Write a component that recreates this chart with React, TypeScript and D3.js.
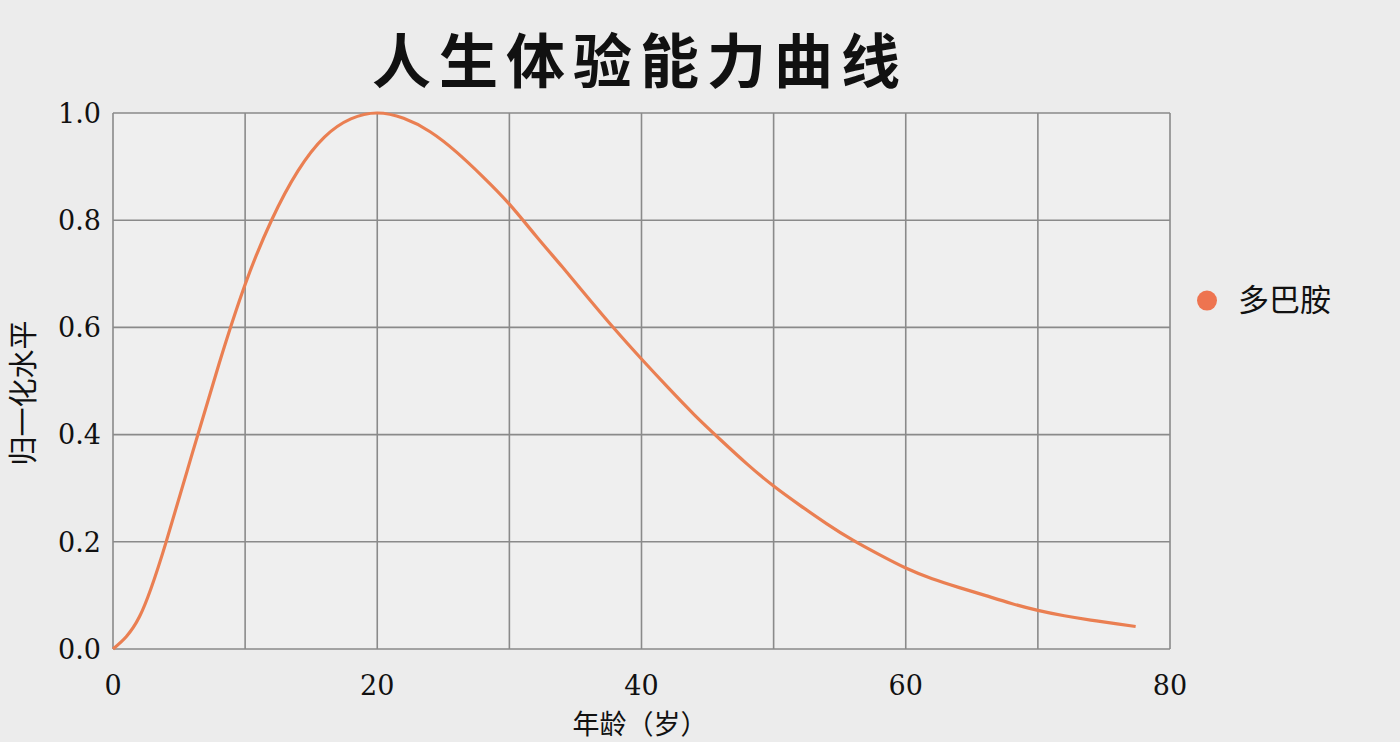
import * as d3 from 'd3';

// readings, every 2 years
const ages = [0, 2, 4, 6, 8, 10, 12, 14, 16, 18, 20, 22, 24, 26, 28, 30, 32, 34, 36, 38, 40, 42, 44, 46, 48, 50, 52, 54, 56, 58, 60, 62, 64, 66, 68, 70, 72, 74, 76, 77.4];
const levels = [0, 0.06, 0.198, 0.365, 0.53, 0.68, 0.8, 0.892, 0.955, 0.989, 1.0, 0.99, 0.965, 0.927, 0.881, 0.83, 0.771, 0.713, 0.654, 0.596, 0.541, 0.488, 0.437, 0.39, 0.345, 0.304, 0.268, 0.234, 0.203, 0.176, 0.151, 0.131, 0.115, 0.1, 0.085, 0.072, 0.062, 0.054, 0.047, 0.042];

const xTicks = [0, 20, 40, 60, 80];
const xGrid = [0, 10, 20, 30, 40, 50, 60, 70, 80];
const yTicks = [0, 0.2, 0.4, 0.6, 0.8, 1.0];

const title = '人生体验能力曲线';
const xLabel = '年龄（岁）';
const yLabel = '归一化水平';
const seriesName = '多巴胺';

const W = 1400;
const H = 742;
const margin = { left: 113, right: 230, top: 113, bottom: 93 };

export default function App() {
  const x = d3.scaleLinear().domain([0, 80]).range([margin.left, W - margin.right]);
  const y = d3.scaleLinear().domain([0, 1]).range([H - margin.bottom, margin.top]);

  const line = d3.line<number>()
    .x((d, i) => x(ages[i]))
    .y(d => y(d))
    .curve(d3.curveNatural);

  const serif = '"DejaVu Serif", "Liberation Serif", serif';
  const cjk = '"Noto Sans CJK SC", sans-serif';
  const gridColor = '#8a8a8a';
  const lineColor = '#ea7f52';

  return (
    <div style={{ position: 'fixed', left: 0, top: 0, width: W, height: H }}>
      <svg width={W} height={H} viewBox={`0 0 ${W} ${H}`}>
        <rect x={0} y={0} width={W} height={H} fill="#ececec" />
        <rect x={x(0)} y={y(1)} width={x(80) - x(0)} height={y(0) - y(1)} fill="#efefef" />

        <text x={640} y={83} textAnchor="middle" fontFamily={cjk} fontWeight={700}
          fontSize={59} letterSpacing={8} fill="#111">{title}</text>

        {xGrid.map(t => (
          <line key={'gx' + t} x1={x(t)} x2={x(t)} y1={y(0)} y2={y(1)}
            stroke={gridColor} strokeWidth={1.6} />
        ))}
        {yTicks.map(t => (
          <line key={'gy' + t} x1={x(0)} x2={x(80)} y1={y(t)} y2={y(t)}
            stroke={gridColor} strokeWidth={1.6} />
        ))}

        {yTicks.map(t => (
          <text key={'yt' + t} x={x(0) - 12} y={y(t)} dy="0.36em" textAnchor="end"
            fontFamily={serif} fontSize={27} fill="#111">{t.toFixed(1)}</text>
        ))}
        {xTicks.map(t => (
          <text key={'xt' + t} x={x(t)} y={y(0) + 46} textAnchor="middle"
            fontFamily={serif} fontSize={27} fill="#111">{t}</text>
        ))}

        <path d={line(levels) || ''} fill="none" stroke={lineColor} strokeWidth={3.2} />

        <text transform={`translate(34, ${y(0.5) + 12}) rotate(-90)`} textAnchor="middle"
          fontFamily={cjk} fontSize={29} fill="#111">{yLabel}</text>
        <text x={640} y={734} textAnchor="middle" fontFamily={cjk} fontSize={27} fill="#111">{xLabel}</text>

        <circle cx={1207} cy={y(0.65)} r={10} fill="#ee7450" />
        <text x={1238} y={y(0.65)} dy="0.35em" fontFamily={cjk} fontSize={31} fill="#111">{seriesName}</text>
      </svg>
    </div>
  );
}
